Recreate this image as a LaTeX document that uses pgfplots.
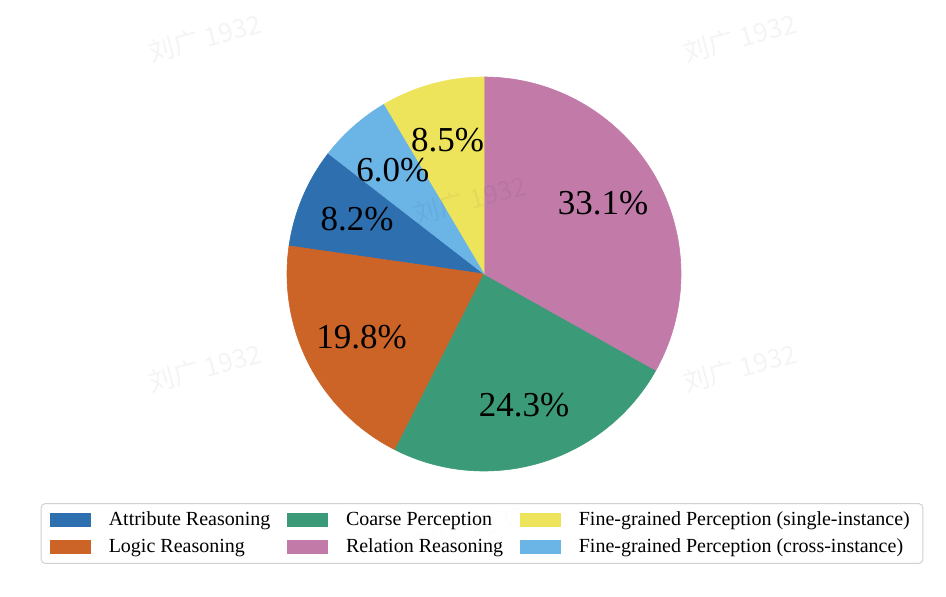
\documentclass[border=0pt]{standalone}
\usepackage{pgfplots}
\pgfplotsset{compat=1.18}
\usepackage{fontspec}
\setmainfont{Liberation Serif}
\newfontfamily\cjk{Noto Sans CJK SC}

\definecolor{cAtt}{RGB}{46,111,176}
\definecolor{cLog}{RGB}{204,100,40}
\definecolor{cCoa}{RGB}{59,154,119}
\definecolor{cRel}{RGB}{194,123,169}
\definecolor{cSin}{RGB}{238,228,92}
\definecolor{cCro}{RGB}{107,180,230}

% shares in percent, clockwise from 12 o'clock
\def\pRel{33.1}
\def\pCoa{24.3}
\def\pLog{19.8}
\def\pAtt{8.2}
\def\pCro{6.0}
\def\pSin{8.5}

\pgfmathsetmacro{\tot}{\pRel+\pCoa+\pLog+\pAtt+\pCro+\pSin}
\pgfmathsetmacro{\aA}{90-360*\pRel/\tot}
\pgfmathsetmacro{\aB}{\aA-360*\pCoa/\tot}
\pgfmathsetmacro{\aC}{\aB-360*\pLog/\tot}
\pgfmathsetmacro{\aD}{\aC-360*\pAtt/\tot}
\pgfmathsetmacro{\aE}{\aD-360*\pCro/\tot}

% centre and radius in pixel units of the 946x596 frame
\def\cx{484}
\def\cy{322}
\def\R{197}

\newcommand{\slice}[4]{%
  \addplot[draw=#1, line width=0.3pt, fill=#1, domain=#2:#3, samples=90, variable=\t]
    ({\cx+\R*cos(\t)},{\cy+\R*sin(\t)}) -- (axis cs:\cx,\cy) -- cycle;
  \addlegendentry{#4}}

\newcommand{\pct}[3]{% from, to, text
  \node[font=\fontsize{17.5}{18}\selectfont, anchor=center]
    at (axis cs:{\cx+0.7*\R*cos((#1+#2)/2)},{\cy+0.7*\R*sin((#1+#2)/2)+1}) {#3};}

\newcommand{\wm}[2]{%
  \node[rotate=15, text=black, opacity=0.045, font=\cjk\fontsize{13}{13}\selectfont]
    at (axis cs:#1,#2) {刘广 1932};}

\begin{document}
\begin{tikzpicture}
\begin{axis}[
    hide axis,
    scale only axis,
    width=473pt,
    height=298pt,
    xmin=0, xmax=946,
    ymin=0, ymax=596,
    clip=false,
    legend columns=2,
    transpose legend,
    legend cell align=left,
    legend image code/.code={%
        \fill[#1, fill opacity=1, sharp corners] (0pt,-3.2pt) rectangle (20pt,3.2pt);
        \path (27pt,0pt);},
    legend style={
        at={(0.5095,0.1049)}, anchor=center,
        font=\fontsize{10}{12}\selectfont,
        draw=black!18, line width=0.5pt, rounded corners=2pt,
        fill=white, fill opacity=0.8, draw opacity=1, text opacity=1,
        inner xsep=4.5pt, inner ysep=2pt,
        row sep=1pt,
        /tikz/every even column/.append style={column sep=6.5pt},
    },
]
% keep the whole 946x596 frame as the picture
\path (axis cs:0,0) rectangle (axis cs:946,596);

\slice{cAtt}{\aD}{\aC}{Attribute Reasoning}
\slice{cLog}{\aC}{\aB}{Logic Reasoning}
\slice{cCoa}{\aB}{\aA}{Coarse Perception}
\slice{cRel}{\aA}{90}{Relation Reasoning}
\slice{cSin}{-270}{\aE}{Fine-grained Perception (single-instance)}
\slice{cCro}{\aE}{\aD}{Fine-grained Perception (cross-instance)}

\pct{\aA}{90}{33.1\%}
\pct{\aB}{\aA}{24.3\%}
\pct{\aC}{\aB}{19.8\%}
\pct{\aD}{\aC}{8.2\%}
\pct{\aE}{\aD}{6.0\%}
\pct{-270}{\aE}{8.5\%}

% watermark
\wm{205}{558}
\wm{740}{558}
\wm{205}{228}
\wm{740}{228}
\wm{470}{396}
\wm{470}{66}
\end{axis}
\end{tikzpicture}
\end{document}
